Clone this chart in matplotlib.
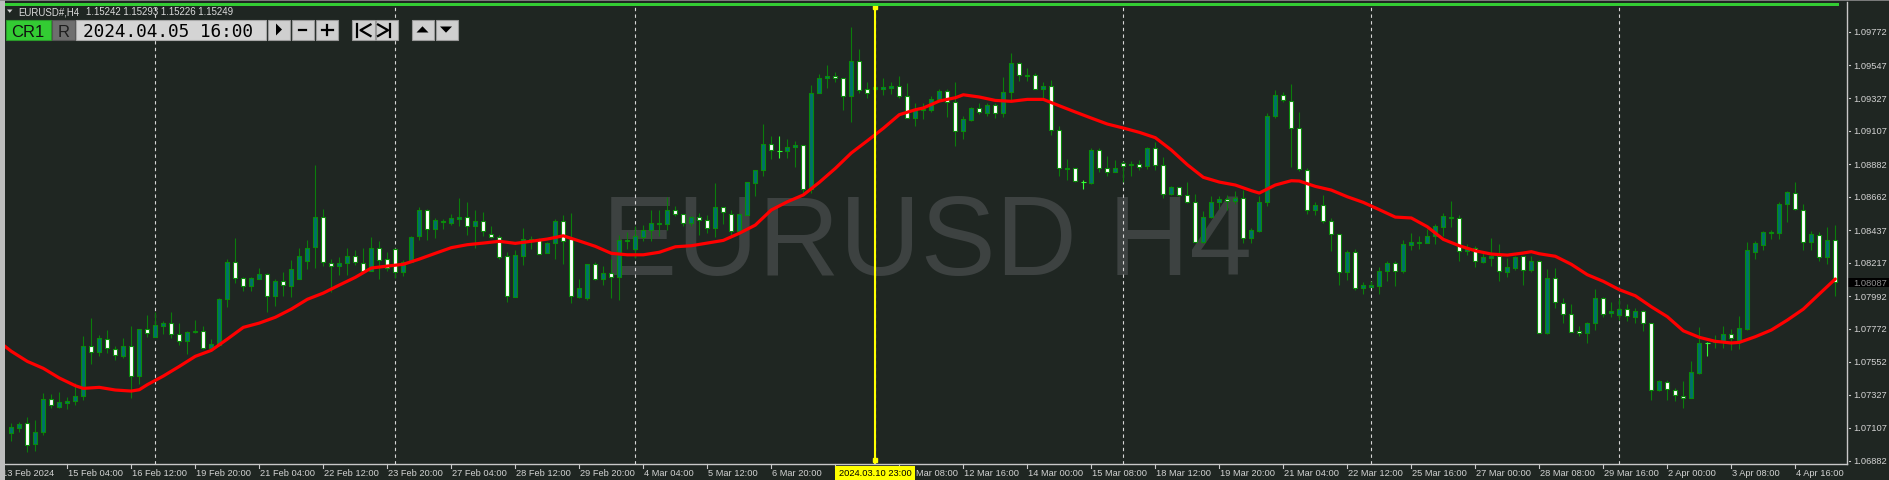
import numpy as np
import matplotlib
matplotlib.use("Agg")
import matplotlib.pyplot as plt
from matplotlib.patches import Rectangle, Polygon
from matplotlib.transforms import blended_transform_factory as blend

# ============================================
# DATA - EURUSD H4 candles, prices in points (1e-5)
# ============================================
opens = [
    107068, 107106, 107136, 106994, 107075, 107297, 107243, 107274, 107284, 107321,
    107654, 107614, 107705, 107638, 107589, 107654, 107456, 107769, 107715, 107793,
    107809, 107735, 107688, 107749, 107755, 107645, 107661, 107971, 108224, 108112,
    108062, 108110, 108139, 107991, 108092, 108062, 108110, 108229, 108321, 108523,
    108217, 108193, 108213, 108261, 108217, 108164, 108314, 108240, 108308, 108157,
    108222, 108395, 108571, 108443, 108490, 108487, 108514, 108523, 108467, 108496,
    108409, 108389, 108261, 107988, 108265, 108368, 108372, 108281, 108348, 108498,
    108375, 107988, 107978, 108207, 108110, 108146, 108119, 108366, 108310, 108393,
    108436, 108476, 108476, 108571, 108544, 108487, 108523, 108503, 108453, 108591,
    108548, 108429, 108541, 108756, 108840, 109015, 108968, 108968, 108995, 109008,
    108712, 109359, 109460, 109473, 109460, 109343, 109574, 109386, 109386, 109386,
    109394, 109406, 109339, 109192, 109244, 109248, 109318, 109372, 109298, 109103,
    109181, 109258, 109228, 109278, 109224, 109365, 109561, 109477, 109480, 109386,
    109406, 109109, 108847, 108853, 108763, 108754, 108975, 108853, 108827, 108887,
    108874, 108880, 108867, 108990, 108878, 108678, 108725, 108671, 108628, 108357,
    108527, 108624, 108645, 108631, 108651, 108382, 108433, 108624, 109204, 109345,
    109305, 109123, 108840, 108571, 108604, 108496, 108409, 108153, 108288, 108049,
    108056, 108062, 108160, 108213, 108164, 108339, 108350, 108352, 108395, 108460,
    108517, 108517, 108294, 108314, 108224, 108251, 108263, 108157, 108184, 108261,
    108166, 108227, 107742, 108112, 107948, 107870, 107755, 107742, 107809, 107978,
    107877, 107867, 107904, 107854, 107890, 107809, 107360, 107412, 107358, 107321,
    107304, 107476, 107677, 107681, 107681, 107735, 107699, 107771, 108292, 108339,
    108418, 108416, 108611, 108687, 108575, 108355, 108402, 108254, 108368,
]
highs = [
    107138, 107146, 107180, 107158, 107340, 107331, 107346, 107315, 107405, 107726,
    107845, 107730, 107762, 107658, 107708, 107791, 107769, 107865, 107883, 107825,
    107883, 107811, 107757, 107831, 107791, 107703, 107980, 108242, 108384, 108123,
    108123, 108180, 108150, 108106, 108155, 108236, 108319, 108370, 108876, 108577,
    108240, 108258, 108316, 108303, 108316, 108391, 108362, 108289, 108314, 108236,
    108397, 108593, 108579, 108519, 108514, 108546, 108653, 108626, 108575, 108559,
    108465, 108404, 108289, 108303, 108451, 108397, 108386, 108359, 108514, 108541,
    108554, 108108, 108211, 108220, 108195, 108242, 108404, 108422, 108467, 108471,
    108571, 108571, 108660, 108597, 108544, 108534, 108550, 108539, 108754, 108591,
    108571, 108544, 108761, 108840, 109150, 109071, 109071, 109051, 109037, 109008,
    109417, 109487, 109549, 109504, 109464, 109805, 109657, 109433, 109415, 109460,
    109435, 109475, 109426, 109295, 109293, 109339, 109388, 109388, 109435, 109204,
    109268, 109291, 109291, 109291, 109468, 109630, 109572, 109531, 109496, 109433,
    109448, 109136, 108916, 108853, 108775, 108990, 108988, 108936, 108907, 108905,
    108903, 108907, 108999, 109033, 108930, 108734, 108725, 108759, 108680, 108566,
    108665, 108665, 108671, 108698, 108707, 108451, 108665, 109224, 109381, 109365,
    109421, 109233, 108855, 108626, 108674, 108517, 108409, 108303, 108308, 108085,
    108096, 108189, 108229, 108229, 108370, 108418, 108399, 108447, 108476, 108550,
    108633, 108537, 108343, 108328, 108294, 108384, 108343, 108249, 108263, 108261,
    108263, 108234, 108175, 108182, 107978, 107939, 107789, 107816, 108040, 107984,
    107951, 107978, 107939, 107910, 107899, 107809, 107429, 107429, 107371, 107418,
    107555, 107782, 107683, 107730, 107789, 107771, 107856, 108357, 108366, 108429,
    108438, 108624, 108701, 108761, 108615, 108431, 108424, 108456, 108471,
]
lows = [
    107018, 107075, 106940, 106951, 107057, 107241, 107239, 107234, 107259, 107294,
    107537, 107591, 107607, 107564, 107577, 107308, 107402, 107719, 107715, 107739,
    107712, 107665, 107604, 107746, 107638, 107631, 107658, 107921, 108081, 108029,
    108029, 108110, 107887, 107928, 107995, 107988, 108110, 108175, 108180, 108197,
    108018, 108137, 108137, 108202, 108157, 108164, 108108, 108164, 108112, 108128,
    108222, 108372, 108372, 108386, 108447, 108473, 108463, 108404, 108319, 108399,
    108382, 108242, 107955, 107984, 108202, 108310, 108274, 108281, 108242, 108209,
    107948, 107978, 107968, 108103, 108069, 107978, 107968, 108310, 108247, 108362,
    108366, 108395, 108440, 108534, 108463, 108465, 108406, 108420, 108391, 108480,
    108406, 108429, 108541, 108665, 108804, 108916, 108925, 108925, 108864, 108689,
    108689, 109359, 109394, 109433, 109248, 109167, 109361, 109325, 109374, 109347,
    109354, 109329, 109192, 109136, 109186, 109235, 109318, 109201, 109006, 109053,
    109174, 109221, 109208, 109194, 109201, 109314, 109444, 109444, 109386, 109320,
    109080, 108800, 108773, 108759, 108714, 108746, 108827, 108804, 108827, 108759,
    108800, 108844, 108851, 108842, 108651, 108674, 108667, 108620, 108357, 108350,
    108517, 108577, 108573, 108613, 108350, 108352, 108426, 108601, 109194, 109300,
    108864, 108833, 108548, 108541, 108487, 108296, 108069, 108101, 108036, 108007,
    108056, 108009, 108096, 108062, 108148, 108303, 108310, 108352, 108346, 108399,
    108456, 108231, 108269, 108189, 108215, 108197, 108096, 108121, 108170, 108069,
    108157, 107742, 107737, 107914, 107813, 107749, 107726, 107675, 107764, 107852,
    107854, 107833, 107823, 107813, 107759, 107294, 107355, 107294, 107284, 107237,
    107304, 107470, 107591, 107643, 107643, 107629, 107636, 107766, 108242, 108305,
    108377, 108377, 108494, 108571, 108305, 108303, 108227, 108209, 107991,
]
closes = [
    107109, 107129, 106989, 107075, 107297, 107257, 107277, 107284, 107317, 107654,
    107614, 107708, 107641, 107594, 107654, 107456, 107769, 107742, 107796, 107811,
    107735, 107692, 107751, 107755, 107645, 107668, 107971, 108220, 108112, 108062,
    108112, 108139, 107991, 108092, 108065, 108173, 108261, 108320, 108523, 108220,
    108193, 108213, 108261, 108220, 108164, 108314, 108238, 108182, 108153, 108222,
    108389, 108571, 108443, 108505, 108498, 108517, 108525, 108467, 108498, 108429,
    108389, 108258, 107991, 108267, 108375, 108377, 108278, 108348, 108498, 108366,
    107991, 108045, 108207, 108110, 108146, 108119, 108370, 108372, 108395, 108436,
    108483, 108487, 108573, 108544, 108483, 108523, 108503, 108453, 108591, 108557,
    108429, 108544, 108761, 108840, 109015, 108975, 108968, 108997, 109010, 108712,
    109359, 109464, 109475, 109460, 109343, 109574, 109383, 109359, 109399, 109399,
    109406, 109339, 109192, 109248, 109256, 109322, 109372, 109300, 109103, 109184,
    109258, 109231, 109280, 109224, 109367, 109561, 109480, 109484, 109386, 109406,
    109112, 108853, 108855, 108766, 108763, 108975, 108853, 108827, 108853, 108871,
    108882, 108860, 108990, 108878, 108678, 108725, 108671, 108628, 108357, 108527,
    108624, 108645, 108633, 108651, 108382, 108436, 108624, 109204, 109345, 109311,
    109123, 108849, 108573, 108606, 108496, 108409, 108155, 108288, 108049, 108065,
    108065, 108160, 108213, 108164, 108343, 108357, 108355, 108395, 108465, 108532,
    108527, 108294, 108310, 108227, 108254, 108263, 108160, 108187, 108256, 108166,
    108227, 107742, 108112, 107951, 107870, 107749, 107744, 107809, 107978, 107870,
    107890, 107904, 107858, 107890, 107809, 107360, 107418, 107365, 107324, 107304,
    107479, 107675, 107677, 107699, 107735, 107708, 107776, 108303, 108350, 108422,
    108426, 108613, 108692, 108577, 108355, 108409, 108254, 108368, 108087,
]

# moving average (red line), read at these bars
ma_bars = [-1, 0, 2, 4, 6, 8, 9, 11, 13, 15, 16, 17, 19, 21, 23, 25, 27, 29, 31, 33,
           35, 37, 39, 41, 43, 45, 47, 49, 51, 53, 55, 57, 59, 61, 63, 65, 67, 69, 71, 73,
           75, 77, 79, 81, 83, 85, 87, 89, 91, 93, 95, 97, 99, 101, 103, 105, 107, 109, 111, 113,
           114, 116, 118, 119, 121, 123, 125, 127, 129, 131, 133, 135, 137, 139, 141, 143, 145, 147, 149, 151,
           153, 155, 156, 158, 160, 161, 163, 165, 167, 169, 171, 173, 175, 177, 179, 181, 183, 185, 187, 189,
           190, 191, 193, 195, 197, 199, 201, 203, 205, 207, 209, 211, 213, 215, 216, 218, 220, 222, 224, 226,
           228]
ma_pts = [107663, 107621, 107553, 107506, 107441, 107389, 107371, 107378, 107360, 107353,
          107362, 107396, 107454, 107519, 107587, 107627, 107703, 107782, 107811, 107850,
          107905, 107971, 108013, 108067, 108119, 108182, 108195, 108207, 108242, 108281,
          108319, 108339, 108350, 108362, 108348, 108362, 108377, 108399, 108364, 108328,
          108281, 108271, 108271, 108288, 108325, 108332, 108350, 108368, 108416, 108471,
          108573, 108628, 108674, 108759, 108853, 108957, 109039, 109123, 109215, 109248,
          109260, 109307, 109329, 109349, 109334, 109311, 109305, 109318, 109318, 109275,
          109233, 109192, 109152, 109125, 109096, 109060, 108977, 108878, 108793, 108761,
          108741, 108703, 108687, 108741, 108770, 108768, 108732, 108707, 108662, 108624,
          108575, 108525, 108519, 108460, 108375, 108332, 108298, 108276, 108269, 108283,
          108292, 108278, 108261, 108207, 108137, 108092, 108036, 107995, 107921, 107854,
          107759, 107715, 107688, 107677, 107681, 107719, 107764, 107831, 107905, 108007,
          108108]

price_ticks = [1.09772, 1.09547, 1.09327, 1.09107, 1.08882, 1.08662, 1.08437,
               1.08217, 1.07992, 1.07772, 1.07552, 1.07327, 1.07107, 1.06882]
last_price = 1.08087

first_label = "13 Feb 2024"
time_labels = ["15 Feb 04:00", "16 Feb 12:00", "19 Feb 20:00", "21 Feb 04:00",
               "22 Feb 12:00", "23 Feb 20:00", "27 Feb 04:00", "28 Feb 12:00",
               "29 Feb 20:00", "4 Mar 04:00", "5 Mar 12:00", "6 Mar 20:00",
               "8 Mar 04:00", "11 Mar 08:00", "12 Mar 16:00", "14 Mar 00:00",
               "15 Mar 08:00", "18 Mar 12:00", "19 Mar 20:00", "21 Mar 04:00",
               "22 Mar 12:00", "25 Mar 16:00", "27 Mar 00:00", "28 Mar 08:00",
               "29 Mar 16:00", "2 Apr 00:00", "3 Apr 08:00", "4 Apr 16:00"]
first_label_bar = 7      # one label every 8 bars from here

separator_bars = [18, 48, 78, 108, 139, 170, 201]
cursor_bar = 108
cursor_label = "2024.03.10 23:00"

symbol_text = "EURUSD#,H4"
quote_text = "1.15242 1.15293 1.15226 1.15249"
toolbar_date = "2024.04.05 16:00"
watermark = "EURUSD H4"

# ============================================
# STYLE
# ============================================
W, H = 1889, 481
BG = "#1f2622"
TEAL = "#00706c"
WHITE = "#ffffff"
EDGE = "#0a8c0a"
WICK = "#0b7d0b"
LIME = "#33ff33"
AXIS = "#c8c8c8"
TXT = "#d2d2d2"
BTN = "#cfcfcf"

plt.rcParams["font.family"] = ["Liberation Sans", "DejaVu Sans"]

fig = plt.figure(figsize=(W / 100, H / 100), dpi=100, facecolor=BG)

# chart pane (pixels 5..1847 horizontally, 7..465 from top)
ax = fig.add_axes([5 / W, (H - 465) / H, 1842 / W, 458 / H])
ax.set_facecolor(BG)
for s in ax.spines.values():
    s.set_visible(False)
ax.set_xticks([])
ax.set_yticks([])
ax.set_xlim(-0.7875, 229.4625)
ax.set_ylim(1.068616, 1.099471)

# overlay in pixel coordinates for the terminal decorations
ov = fig.add_axes([0, 0, 1, 1], zorder=5)
ov.set_xlim(0, W)
ov.set_ylim(H, 0)
ov.axis("off")

x_axes = blend(ax.transData, ax.transAxes)
x_pix = blend(ax.transData, ov.transData)
y_price = blend(ov.transData, ax.transData)

# watermark
ax.text(927, 275, watermark, transform=ov.transData, ha="center", va="baseline",
        fontsize=81, color="#3d4241", zorder=1)

# period separators
ax.vlines(separator_bars, 0, 1, transform=x_axes, colors="#d8d8d8", lw=0.8,
          linestyles=(0, (3, 3)), zorder=2)

# candles
o = np.array(opens) / 1e5
h = np.array(highs) / 1e5
l = np.array(lows) / 1e5
c = np.array(closes) / 1e5
idx = np.arange(len(o))
doji = c == o
wick_cols = np.where(doji, LIME, WICK)
ax.vlines(idx, l, h, colors=wick_cols, lw=0.8, zorder=3)
for i in idx[~doji]:
    face = TEAL if c[i] > o[i] else WHITE
    ax.add_patch(Rectangle((i - 0.27, min(o[i], c[i])), 0.54, abs(c[i] - o[i]),
                           facecolor=face, edgecolor=EDGE, lw=0.8, zorder=4))
ax.hlines(c[doji], idx[doji] - 0.3, idx[doji] + 0.3, colors=LIME, lw=0.8, zorder=4)

# moving average
ax.plot(ma_bars, np.array(ma_pts) / 1e5, color="#ff0000", lw=2.3, zorder=6,
        solid_joinstyle="round", solid_capstyle="round")

# cursor line
ax.axvline(cursor_bar, color="#ffff00", lw=1.5, zorder=7)
ax.plot([cursor_bar, cursor_bar], [0.998, 0.009], "s", color="#ffff00", ms=3.5,
        transform=x_axes, clip_on=False, zorder=8)

# frame lines
ov.plot([0, W], [0.5, 0.5], color="#8c8c8c", lw=1.2)
ov.add_patch(Rectangle((5, 3.7), 1834, 3, facecolor="#33cc33", edgecolor="none"))
ov.add_patch(Rectangle((0, 0), 4.5, H, facecolor="#bdbdbd", edgecolor="none"))
ov.plot([5, 1847], [465, 465], color=AXIS, lw=1)
ov.plot([1847, 1847], [3, 465], color=AXIS, lw=1)

# price scale
for p in price_ticks:
    ax.plot([1848.5, 1850], [p, p], color=AXIS, lw=0.8, transform=y_price, clip_on=False)
    ax.text(1853, p, f"{p:.5f}", transform=y_price, ha="left", va="center",
            fontsize=6.7, color=TXT, clip_on=False)
ax.add_patch(Rectangle((1848, last_price - 0.0003), 41, 0.0006, transform=y_price,
                       facecolor="#000000", edgecolor="none", clip_on=False, zorder=9))
ax.text(1853, last_price, f"{last_price:.5f}", transform=y_price, ha="left", va="center",
        fontsize=6.7, color="#8f8f8f", clip_on=False, zorder=10)

# time scale; the cursor date box hides one label and the day of the next
box_x0, box_x1 = 835, 915
for k, lab in enumerate(time_labels):
    b = first_label_bar + 8 * k
    ax.plot([b, b], [465, 469], color=AXIS, lw=0.8, transform=x_pix, clip_on=False)
    x_start = ax.transData.transform((b, 0))[0]
    if box_x0 - 50 < x_start < box_x0 + 10:
        continue
    if box_x0 < x_start < box_x1:
        ov.text(box_x1 + 0.5, 473.5, lab.split(" ", 1)[1], ha="left", va="center",
                fontsize=6.7, color=TXT)
        continue
    ax.text(b + 0.1, 473.5, lab, transform=x_pix, ha="left", va="center",
            fontsize=6.7, color=TXT, clip_on=False)
ov.text(1.8, 473.5, first_label, ha="left", va="center", fontsize=6.7, color=TXT)
ov.add_patch(Rectangle((0, 466), 4.5, 15, facecolor="#bdbdbd", edgecolor="none", zorder=3))

# cursor date box
ov.add_patch(Rectangle((box_x0, 466.5), box_x1 - box_x0, 14, facecolor="#ffff00",
                       edgecolor="none", zorder=10))
ov.text(875, 473.5, cursor_label, ha="center", va="center", fontsize=6.7,
        color="#000000", zorder=11)

# header
ov.add_patch(Polygon([(7, 10.5), (12.5, 10.5), (9.75, 13.8)], closed=True,
                     facecolor="#d0d0d0", edgecolor="none"))
ov.text(18, 12.3, symbol_text, ha="left", va="center", fontsize=6.9, color="#dcdcdc")
ov.text(86, 12.3, quote_text, ha="left", va="center", fontsize=6.9, color="#dcdcdc")

# toolbar
ov.add_patch(Rectangle((5.7, 20.7), 45, 20, facecolor="#33cc33", edgecolor="#2a9a2a", lw=0.8))
ov.text(28.2, 37.3, "CR1", ha="center", va="baseline", fontsize=12, color="#101010")
ov.add_patch(Rectangle((52.3, 20.7), 22.7, 20, facecolor="#6e6e6e", edgecolor="#555555", lw=0.8))
ov.text(63.6, 37.3, "R", ha="center", va="baseline", fontsize=12, color="#1e1e1e")
ov.add_patch(Rectangle((76, 20.7), 190, 20, facecolor="#d4d4d4", edgecolor="#a8a8a8", lw=0.8))
ov.text(168, 37.3, toolbar_date, ha="center", va="baseline", fontsize=12.8,
        family="DejaVu Sans Mono", color="#000000")
for x0, x1 in [(268, 290), (292.3, 313.5), (315.7, 337.7), (351.7, 375),
               (376, 398.3), (411.7, 434), (436, 458.3)]:
    ov.add_patch(Rectangle((x0, 20.7), x1 - x0, 20, facecolor=BTN, edgecolor="#9a9a9a", lw=0.8))
ov.add_patch(Polygon([(276, 24.5), (276, 36.5), (282, 30.5)], closed=True, facecolor="black"))
ov.plot([299, 305.5], [31, 31], color="black", lw=1.6)
ov.plot([322, 332.5], [30.6, 30.6], color="black", lw=1.6)
ov.plot([327.3, 327.3], [25.5, 35.8], color="black", lw=1.6)
ov.plot([357, 357], [24.5, 38], color="black", lw=1.6)
ov.plot([370.5, 360.5, 370.5], [25.5, 31.2, 37], color="black", lw=1.6)
ov.plot([378, 388, 378], [25.5, 31.2, 37], color="black", lw=1.6)
ov.plot([389.7, 389.7], [24.5, 38], color="black", lw=1.6)
ov.add_patch(Polygon([(416.5, 33.5), (428.5, 33.5), (422.5, 27.3)], closed=True, facecolor="black"))
ov.add_patch(Polygon([(440, 27.5), (452, 27.5), (446, 33.7)], closed=True, facecolor="black"))

fig.savefig("out.png", dpi=100, facecolor=BG)
